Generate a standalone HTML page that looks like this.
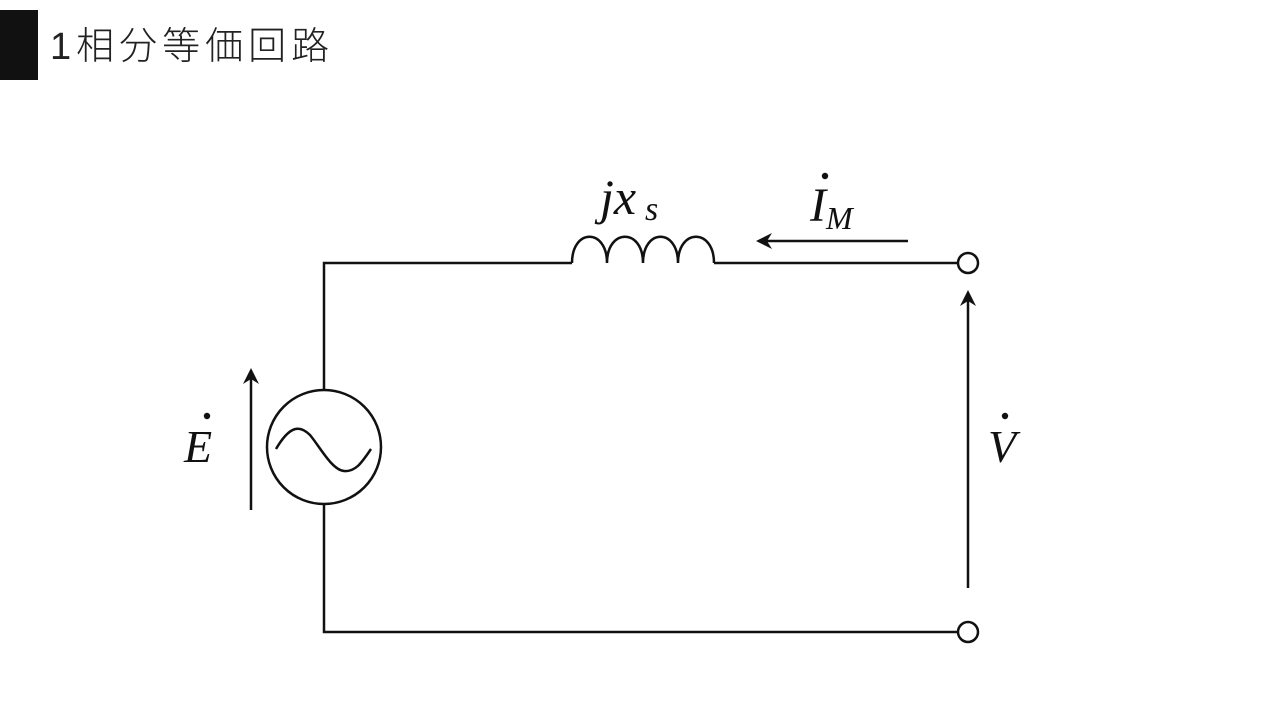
<!DOCTYPE html>
<html><head><meta charset="utf-8"><style>
html,body{margin:0;padding:0;background:#fff;width:1280px;height:720px;overflow:hidden}
.t{position:absolute;left:50px;top:22px;font-family:"Liberation Sans","Noto Sans CJK JP",sans-serif;font-size:38px;letter-spacing:5px;font-weight:300;color:#222;line-height:50px}
</style></head><body>
<div style="position:absolute;left:0;top:10px;width:38px;height:70px;background:#111"></div>
<div class="t">1相分等価回路</div>
<svg width="1280" height="720" style="position:absolute;left:0;top:0" font-family="Liberation Serif, serif" font-style="italic">
<g stroke="#111" stroke-width="2.5" fill="none">
<path d="M958 263 H714 M572 263 H324 V390 M324 504 V632 H958"/>
<path d="M572 263 C572 228 607 228 607 263 C607 228 643 228 643 263 C643 228 678 228 678 263 C678 228 714 228 714 263"/>
<circle cx="324" cy="447" r="57"/>
<path d="M276 449 C290 425 300 425 310 435 C320 447 332 470 344 471 C356 472 362 462 371 449"/>
<circle cx="968" cy="263" r="10"/>
<circle cx="968" cy="632" r="10"/>
<path d="M908 241 H760 M251 510 V372 M968 588 V294"/>
</g>
<g fill="#111">
<path d="M756 241 L772 233 L767 241 L772 249 Z"/>
<path d="M251 368 L243 384 L251 379 L259 384 Z"/>
<path d="M968 290 L960 306 L968 301 L976 306 Z"/>
<text x="600" y="214" font-size="50">jx</text>
<text x="645" y="220" font-size="34">s</text>
<text x="810" y="221" font-size="48">I</text>
<circle cx="825" cy="176" r="3.2"/>
<text x="826" y="229" font-size="32">M</text>
<text x="184" y="462" font-size="46">E</text>
<circle cx="207" cy="416" r="3.2"/>
<text x="988" y="462" font-size="46">V</text>
<circle cx="1005" cy="416" r="3.2"/>
</g>
</svg>
</body></html>
